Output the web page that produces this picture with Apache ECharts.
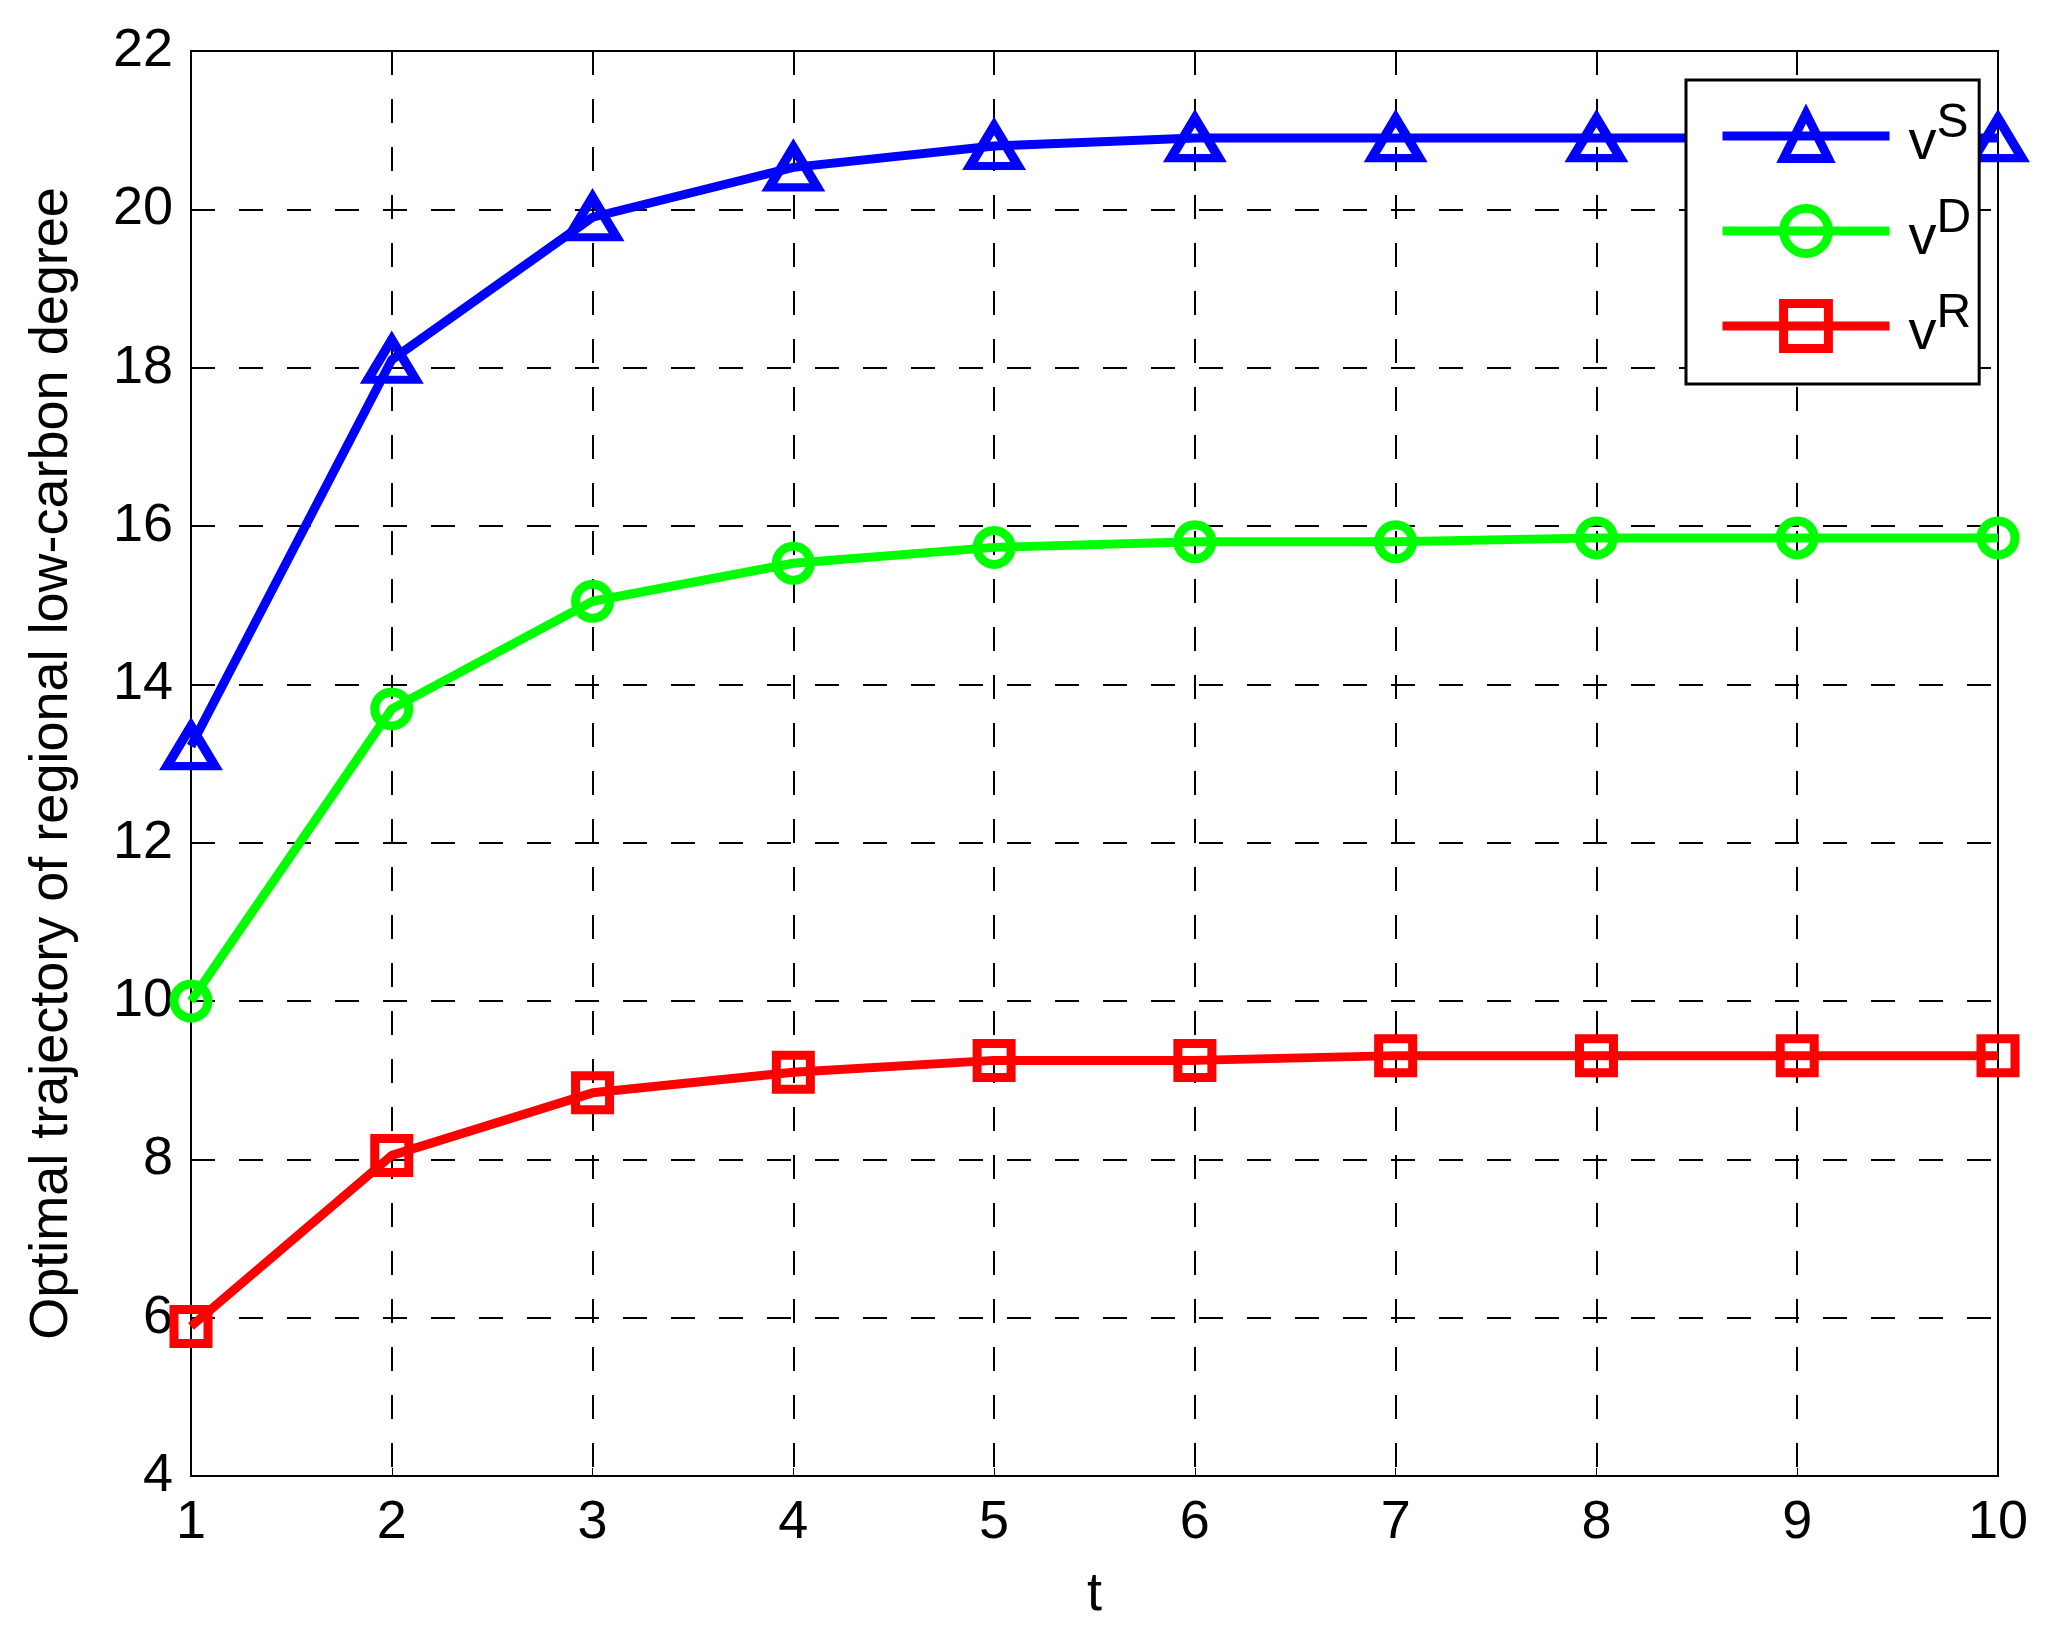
<!DOCTYPE html>
<html>
<head>
<meta charset="utf-8">
<script src="https://cdn.jsdelivr.net/npm/echarts@6/dist/echarts.min.js"></script>
<style>html,body{margin:0;padding:0;background:#fff;}#c{width:2048px;height:1636px;}</style>
</head>
<body>
<div id="c"></div>
<script>
const tValues = [1, 2, 3, 4, 5, 6, 7, 8, 9, 10];
const vS = [13.22, 18.1, 19.9, 20.53, 20.8, 20.9, 20.9, 20.9, 20.9, 20.9];
const vD = [10.0, 13.69, 15.05, 15.53, 15.73, 15.8, 15.8, 15.85, 15.85, 15.85];
const vR = [5.89, 8.05, 8.84, 9.1, 9.25, 9.25, 9.31, 9.31, 9.31, 9.31];
const seriesNames = ['S', 'D', 'R'];
const yLabel = 'Optimal trajectory of regional low-carbon degree';
const xLabel = 't';

const FONT = '"Liberation Sans", Arial, sans-serif';
const chart = echarts.init(document.getElementById('c'), null, {renderer: 'canvas'});

function mk(name, data, color, symbol, size) {
  return {
    name: name,
    type: 'line',
    data: tValues.map((t, i) => [t, data[i]]),
    symbol: symbol,
    symbolSize: size,
    showAllSymbol: true,
    clip: false,
    lineStyle: {color: color, width: 9},
    itemStyle: {color: 'rgba(255,255,255,0)', borderColor: color, borderWidth: 9},
    emphasis: {disabled: true},
    z: 3
  };
}

const option = {
  animation: false,
  backgroundColor: '#fff',
  grid: {left: 191, right: 50, top: 51, bottom: 160, show: true, borderColor: '#000', borderWidth: 2, backgroundColor: 'transparent'},
  xAxis: {
    type: 'value', min: 1, max: 10, interval: 1,
    name: xLabel, nameLocation: 'middle', nameGap: 92,
    nameTextStyle: {fontFamily: FONT, fontSize: 54, color: '#000'},
    axisLine: {show: true, lineStyle: {color: '#000', width: 2}},
    axisTick: {show: true, inside: true, length: 8, lineStyle: {color: '#000', width: 1}},
    axisLabel: {fontFamily: FONT, fontSize: 54, color: '#000', margin: 20},
    splitLine: {show: true, lineStyle: {color: '#000', width: 2, type: [24, 24]}}
  },
  yAxis: {
    type: 'value', min: 4, max: 22, interval: 2,
    name: yLabel, nameLocation: 'middle', nameGap: 112,
    nameTextStyle: {fontFamily: FONT, fontSize: 54, color: '#000'},
    axisLine: {show: true, lineStyle: {color: '#000', width: 2}},
    axisTick: {show: true, inside: true, length: 8, lineStyle: {color: '#000', width: 1}},
    axisLabel: {fontFamily: FONT, fontSize: 54, color: '#000', margin: 18},
    splitLine: {show: true, lineStyle: {color: '#000', width: 2, type: [24, 24]}}
  },
  legend: {
    orient: 'vertical',
    left: 1686, top: 80,
    padding: [20, 8, 22, 32],
    itemGap: 23,
    itemWidth: 167, itemHeight: 56,
    backgroundColor: '#fff',
    borderColor: '#000', borderWidth: 3,
    lineStyle: {width: 9},
    itemStyle: {borderWidth: 9},
    data: ['S', 'D', 'R'],
    formatter: n => '{v|v}{s|' + n + '}{z|\u200b}',
    textStyle: {
      fontFamily: FONT, color: '#000',
      rich: {
        v: {fontFamily: FONT, fontSize: 56, color: '#000', padding: [0, 0, 0, 14], verticalAlign: 'bottom', lineHeight: 56},
        s: {fontFamily: FONT, fontSize: 48, color: '#000', verticalAlign: 'top', lineHeight: 48},
        z: {fontFamily: FONT, fontSize: 20, lineHeight: 72}
      }
    }
  },
  series: [
    mk('S', vS, '#0000ff', 'triangle', [48, 40]),
    mk('D', vD, '#00ff00', 'circle', 34),
    mk('R', vR, '#ff0000', 'rect', 34)
  ]
};
chart.setOption(option);
</script>
</body>
</html>
